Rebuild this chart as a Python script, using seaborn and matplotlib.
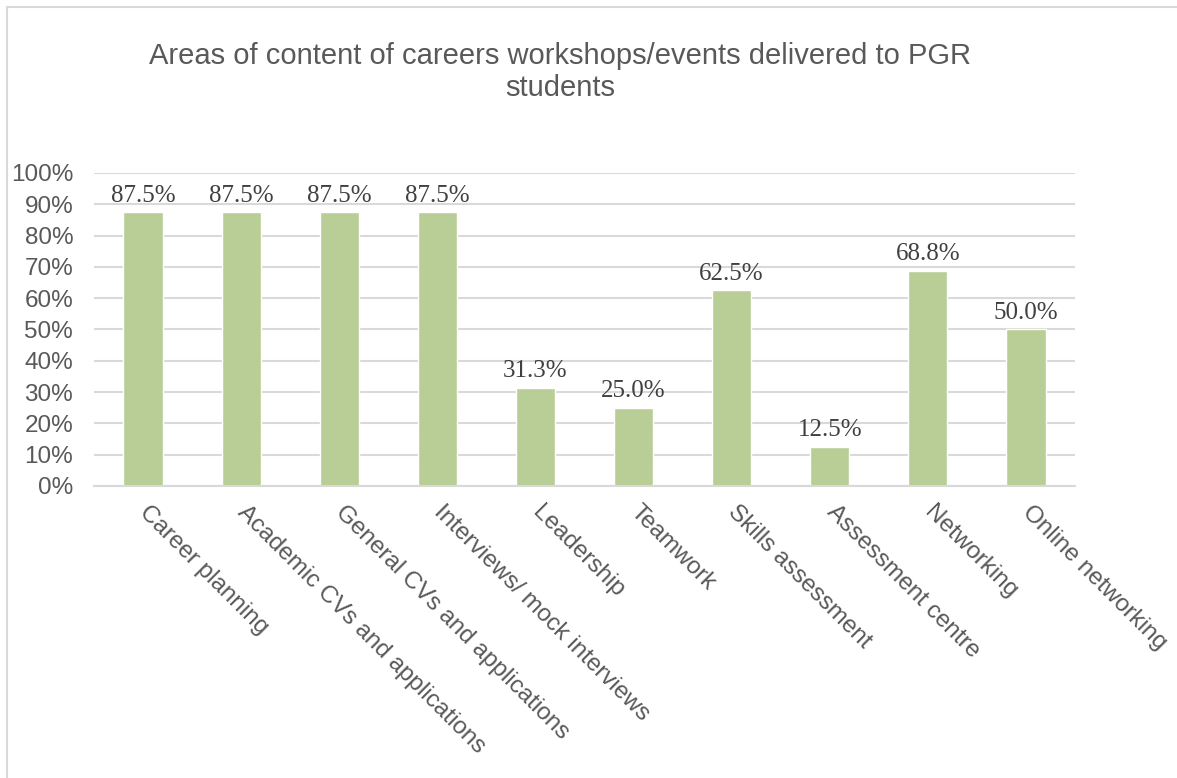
import matplotlib
matplotlib.use("Agg")
import matplotlib.pyplot as plt
import matplotlib.transforms as mtrans
import seaborn as sns
import pandas as pd
from matplotlib.lines import Line2D
from matplotlib.ticker import PercentFormatter

categories = ["Career planning", "Academic CVs and applications", "General CVs and applications",
              "Interviews/ mock interviews", "Leadership", "Teamwork", "Skills assessment",
              "Assessment centre", "Networking", "Online networking"]
values = [0.875, 0.875, 0.875, 0.875, 0.313, 0.250, 0.625, 0.125, 0.688, 0.500]
title = "Areas of content of careers workshops/events delivered to PGR\nstudents"

df = pd.DataFrame({"area": categories, "share": values})

sns.set_style("white")
plt.rcParams["font.family"] = ["Liberation Sans", "DejaVu Sans"]
grey = "#595959"
gridc = "#D9D9D9"

W, H = 1177, 778
fig = plt.figure(figsize=(W / 100, H / 100), dpi=100)
ax = fig.add_axes([94 / W, 1 - 486 / H, (1075 - 94) / W, (486 - 173) / H])

sns.barplot(data=df, x="area", y="share", color="#B9CE96", width=0.4, saturation=1, ax=ax)

ax.set_ylim(0, 1)
ax.set_yticks([i / 10 for i in range(11)])
ax.yaxis.set_major_formatter(PercentFormatter(1.0, decimals=0))
ax.grid(axis="y", color=gridc, linewidth=1.5)
ax.set_axisbelow(True)
for s in ["top", "right", "left"]:
    ax.spines[s].set_visible(False)
ax.spines["bottom"].set_color(gridc)
ax.spines["bottom"].set_linewidth(1.5)
ax.tick_params(length=0, labelsize=17.5, colors=grey)
ax.tick_params(axis="y", pad=15)
ax.set_xlabel("")
ax.set_ylabel("")

ax.set_xticks(range(len(categories)))
ax.set_xticklabels(categories, rotation=-45, ha="left", va="center", rotation_mode="anchor")
# push the slanted labels down a little
offset = mtrans.ScaledTranslation(0, -13 / 72, fig.dpi_scale_trans)
for lab in ax.get_xticklabels():
    lab.set_transform(lab.get_transform() + offset)

ax.bar_label(ax.containers[0], labels=[f"{v * 100:.1f}%" for v in values], padding=4,
             fontsize=18, color="#404040", family="Liberation Serif")

fig.text(560 / W, 1 - 42 / H, title, ha="center", va="top", fontsize=21, color=grey,
         linespacing=1.18)

# chart area border (left and top edges visible)
fig.add_artist(Line2D([7 / W, 7 / W], [0, 1 - 7 / H], color=gridc, linewidth=1.5))
fig.add_artist(Line2D([7 / W, 1], [1 - 7 / H, 1 - 7 / H], color=gridc, linewidth=1.5))

fig.savefig("out.png", dpi=100)
